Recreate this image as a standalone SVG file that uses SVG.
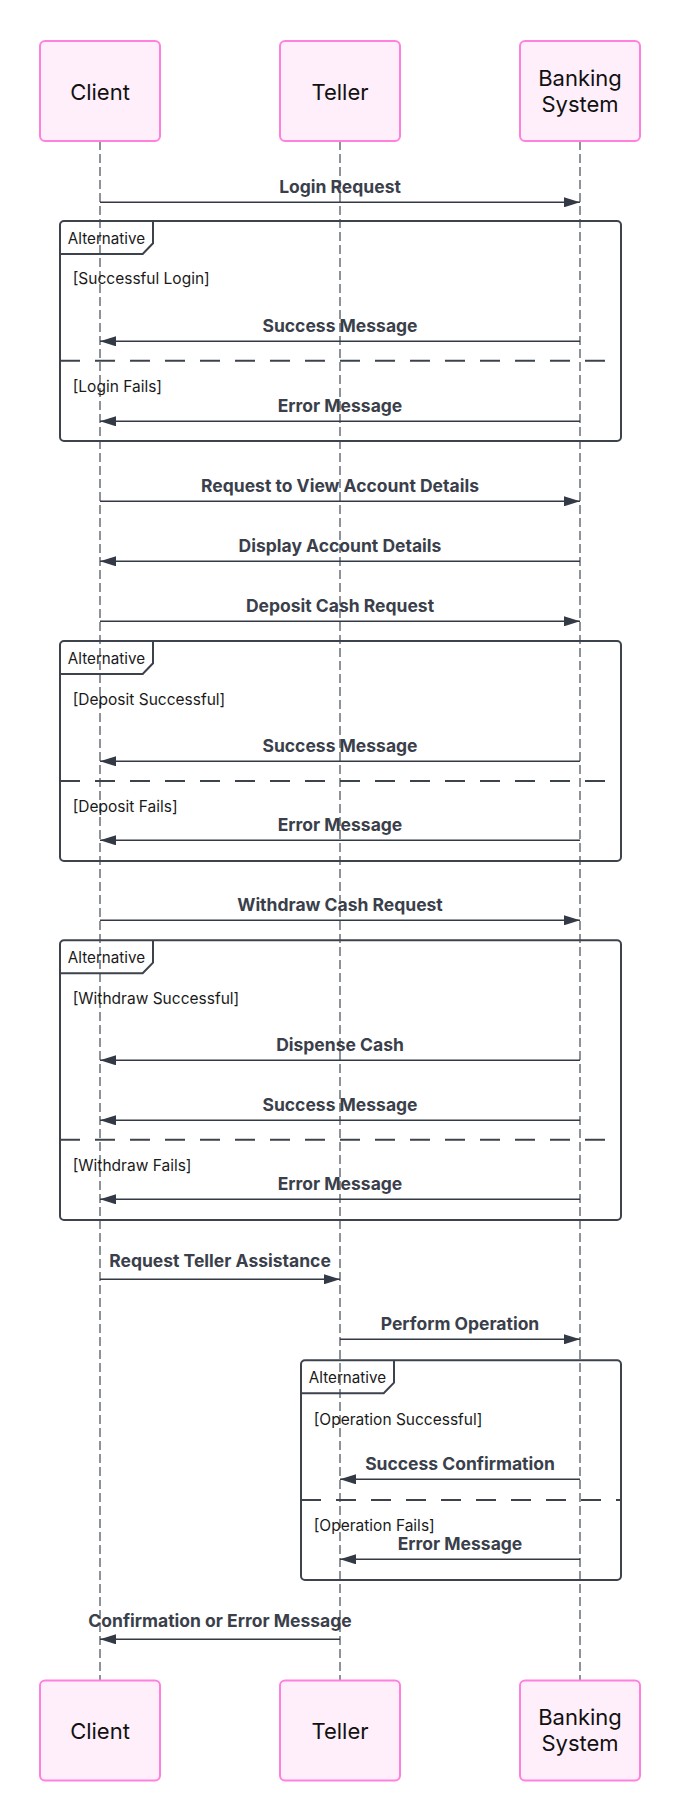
<svg xmlns="http://www.w3.org/2000/svg" width="680" height="1820" viewBox="0 0 680 1820">
<style>
.actor rect{fill:#ffeffa;stroke:#ff80df;stroke-width:2}
.actor text{font-family:Inter,"Liberation Sans",sans-serif;font-size:22px;fill:#111;text-anchor:middle}
.life{stroke:#444b55;stroke-width:1.2;stroke-dasharray:9 4;fill:none}
.frame rect{fill:none;stroke:#3d434d;stroke-width:2}
.frame path.lb{fill:none;stroke:#3d434d;stroke-width:2}
.frame line{stroke:#3d434d;stroke-width:2;stroke-dasharray:20 15}
.frame text{font-family:Inter,"Liberation Sans",sans-serif;font-size:15.5px;fill:#1a1a1a}
.frame text.t{text-anchor:middle;font-size:15.2px}
.msg line{stroke:#333a45;stroke-width:1.4;marker-end:url(#arrow)}
.msg text{font-family:Inter,"Liberation Sans",sans-serif;font-size:17.5px;font-weight:bold;fill:#3a3f4b;text-anchor:middle}
</style>
<defs>
<marker id="arrow" viewBox="0 0 16 10" markerUnits="userSpaceOnUse" markerWidth="16" markerHeight="10" refX="16" refY="5" orient="auto">
<path d="M0,0 L16,5 L0,10 z" fill="#333a45"/>
</marker>
</defs>
<rect width="680" height="1820" fill="#ffffff"/>
<g id="lifelines">
<line class="life" x1="100" y1="141" x2="100" y2="1680"/>
<line class="life" x1="340" y1="141" x2="340" y2="1680"/>
<line class="life" x1="580" y1="141" x2="580" y2="1680"/>
</g>
<g id="actor-client-top" class="actor"><rect x="40" y="41" width="120" height="100" rx="5"/><text x="100" y="99.7">Client</text></g>
<g id="actor-teller-top" class="actor"><rect x="280" y="41" width="120" height="100" rx="5"/><text x="340" y="99.7">Teller</text></g>
<g id="actor-bank-top" class="actor"><rect x="520" y="41" width="120" height="100" rx="5"/><text x="580" y="85.5">Banking</text><text x="580" y="111.5">System</text></g>
<g id="actor-client-bottom" class="actor"><rect x="40" y="1680.5" width="120" height="100" rx="5"/><text x="100" y="1739.3">Client</text></g>
<g id="actor-teller-bottom" class="actor"><rect x="280" y="1680.5" width="120" height="100" rx="5"/><text x="340" y="1739.3">Teller</text></g>
<g id="actor-bank-bottom" class="actor"><rect x="520" y="1680.5" width="120" height="100" rx="5"/><text x="580" y="1725">Banking</text><text x="580" y="1751">System</text></g>
<g id="alt-login" class="frame">
<rect x="60" y="221" width="561" height="220" rx="4"/>
<path class="lb" d="M60,254 H142.7 L153,243.3 V221"/>
<text class="t" x="106.5" y="243.5">Alternative</text>
<text x="72.7" y="283.5">[Successful Login]</text>
<line x1="60" y1="360.7" x2="621" y2="360.7"/>
<text x="72.7" y="392">[Login Fails]</text>
</g>
<g id="alt-deposit" class="frame">
<rect x="60" y="641" width="561" height="220" rx="4"/>
<path class="lb" d="M60,674 H142.7 L153,663.3 V641"/>
<text class="t" x="106.5" y="663.5">Alternative</text>
<text x="72.7" y="704.5">[Deposit Successful]</text>
<line x1="60" y1="781" x2="621" y2="781"/>
<text x="72.7" y="812">[Deposit Fails]</text>
</g>
<g id="alt-withdraw" class="frame">
<rect x="60" y="940.3" width="561" height="279.7" rx="4"/>
<path class="lb" d="M60,973.3 H142.7 L153,962.6 V940.3"/>
<text class="t" x="106.5" y="962.8">Alternative</text>
<text x="72.7" y="1004">[Withdraw Successful]</text>
<line x1="60" y1="1139.7" x2="621" y2="1139.7"/>
<text x="72.7" y="1171">[Withdraw Fails]</text>
</g>
<g id="alt-operation" class="frame">
<rect x="301" y="1360.3" width="320" height="219.7" rx="4"/>
<path class="lb" d="M301,1393.3 H383.7 L394,1382.6 V1360.3"/>
<text class="t" x="347.5" y="1382.8">Alternative</text>
<text x="313.7" y="1424.5">[Operation Successful]</text>
<line x1="301" y1="1500" x2="621" y2="1500"/>
<text x="313.7" y="1531">[Operation Fails]</text>
</g>
<g id="connectors" class="msg">
<text x="340" y="193">Login Request</text><line x1="100" y1="202.3" x2="580" y2="202.3"/>
<text x="340" y="332.3">Success Message</text><line x1="580" y1="341.3" x2="100" y2="341.3"/>
<text x="340" y="412.3">Error Message</text><line x1="580" y1="421.3" x2="100" y2="421.3"/>
<text x="340" y="492.3">Request to View Account Details</text><line x1="100" y1="501.3" x2="580" y2="501.3"/>
<text x="340" y="552.3">Display Account Details</text><line x1="580" y1="561.3" x2="100" y2="561.3"/>
<text x="340" y="612.3">Deposit Cash Request</text><line x1="100" y1="621.3" x2="580" y2="621.3"/>
<text x="340" y="752.3">Success Message</text><line x1="580" y1="761.3" x2="100" y2="761.3"/>
<text x="340" y="831.3">Error Message</text><line x1="580" y1="840.3" x2="100" y2="840.3"/>
<text x="340" y="911.3">Withdraw Cash Request</text><line x1="100" y1="920.3" x2="580" y2="920.3"/>
<text x="340" y="1051.3">Dispense Cash</text><line x1="580" y1="1060.3" x2="100" y2="1060.3"/>
<text x="340" y="1111.3">Success Message</text><line x1="580" y1="1120.3" x2="100" y2="1120.3"/>
<text x="340" y="1190.3">Error Message</text><line x1="580" y1="1199.3" x2="100" y2="1199.3"/>
<text x="220" y="1266.7">Request Teller Assistance</text><line x1="100" y1="1279.3" x2="340" y2="1279.3"/>
<text x="460" y="1330.3">Perform Operation</text><line x1="340" y1="1339.3" x2="580" y2="1339.3"/>
<text x="460" y="1470.3">Success Confirmation</text><line x1="580" y1="1479.3" x2="340" y2="1479.3"/>
<text x="460" y="1550.3">Error Message</text><line x1="580" y1="1559.3" x2="340" y2="1559.3"/>
<text x="220" y="1626.7">Confirmation or Error Message</text><line x1="340" y1="1639.3" x2="100" y2="1639.3"/>
</g>
</svg>
